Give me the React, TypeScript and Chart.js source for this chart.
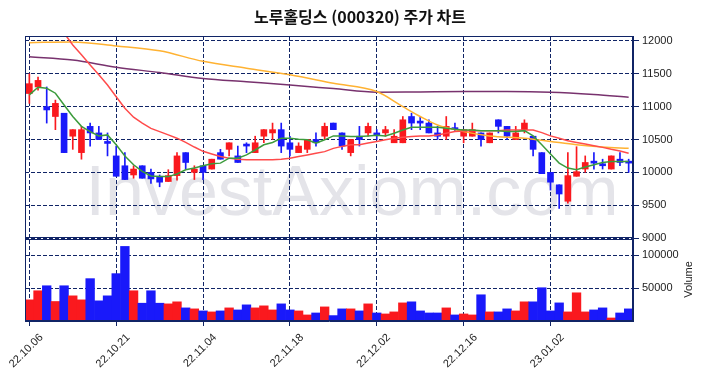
import React, { useEffect, useRef } from 'react';
import { Chart, registerables } from 'chart.js';

Chart.register(...registerables);

const TITLE = '노루홀딩스 (000320) 주가 차트';
const WATERMARK = 'InvestAxiom.com';

const dates = [
  '22.10.06', '22.10.07', '22.10.11', '22.10.12', '22.10.13', '22.10.14', '22.10.17', '22.10.18', '22.10.19', '22.10.20',
  '22.10.21', '22.10.24', '22.10.25', '22.10.26', '22.10.27', '22.10.28', '22.10.31', '22.11.01', '22.11.02', '22.11.03',
  '22.11.04', '22.11.07', '22.11.08', '22.11.09', '22.11.10', '22.11.11', '22.11.14', '22.11.15', '22.11.16', '22.11.17',
  '22.11.18', '22.11.21', '22.11.22', '22.11.23', '22.11.24', '22.11.25', '22.11.28', '22.11.29', '22.11.30', '22.12.01',
  '22.12.02', '22.12.05', '22.12.06', '22.12.07', '22.12.08', '22.12.09', '22.12.12', '22.12.13', '22.12.14', '22.12.15',
  '22.12.16', '22.12.19', '22.12.20', '22.12.21', '22.12.22', '22.12.23', '22.12.26', '22.12.27', '22.12.28', '22.12.29',
  '23.01.02', '23.01.03', '23.01.04', '23.01.05', '23.01.06', '23.01.09', '23.01.10', '23.01.11', '23.01.12', '23.01.13',
];

const opens = [
  11200, 11300, 11000, 10850, 10900, 10550, 10300, 10700, 10600, 10450,
  10250, 10100, 9960, 10100, 10000, 9940, 9860, 9950, 10300, 10000,
  10100, 10050, 10300, 10350, 10250, 10410, 10300, 10550, 10600, 10650,
  10450, 10300, 10350, 10500, 10550, 10750, 10600, 10300, 10550, 10600,
  10580, 10600, 10450, 10450, 10850, 10760, 10750, 10600, 10550, 10660,
  10550, 10550, 10600, 10450, 10800, 10700, 10500, 10650, 10550, 10300,
  10000, 9810, 9560, 9940, 10050, 10150, 10110, 10050, 10200, 10150,
];
const highs = [
  11500, 11450, 11300, 11100, 10900, 10650, 10700, 10750, 10700, 10600,
  10400, 10300, 10100, 10100, 10050, 9960, 10040, 10300, 10300, 10100,
  10100, 10200, 10350, 10450, 10400, 10450, 10550, 10650, 10750, 10750,
  10550, 10450, 10500, 10600, 10750, 10750, 10600, 10500, 10700, 10750,
  10650, 10700, 10650, 10850, 10900, 10850, 10800, 10700, 10850, 10750,
  10650, 10750, 10600, 10600, 10800, 10700, 10700, 10800, 10550, 10300,
  10000, 9810, 10300, 10390, 10250, 10300, 10200, 10250, 10300, 10200,
];
const lows = [
  11050, 11250, 10750, 10650, 10300, 10350, 10200, 10400, 10500, 10250,
  9940, 9890, 9910, 9910, 9830, 9780, 9860, 9880, 10050, 9890,
  9890, 10050, 10200, 10250, 10150, 10300, 10300, 10450, 10500, 10300,
  10250, 10300, 10300, 10400, 10500, 10650, 10350, 10250, 10400, 10550,
  10500, 10550, 10450, 10450, 10650, 10650, 10600, 10500, 10500, 10620,
  10450, 10550, 10400, 10450, 10600, 10500, 10500, 10600, 10250, 9980,
  9730, 9450, 9530, 9940, 10000, 10050, 10050, 10050, 10100, 10000,
];
const closes = [
  11350, 11400, 10950, 11050, 10300, 10650, 10650, 10600, 10500, 10440,
  9940, 9890, 10050, 9910, 9900, 9850, 9950, 10250, 10150, 10050,
  10000, 10200, 10200, 10450, 10150, 10400, 10450, 10650, 10650, 10400,
  10350, 10400, 10500, 10450, 10700, 10650, 10400, 10500, 10500, 10700,
  10570, 10650, 10550, 10800, 10750, 10750, 10600, 10550, 10700, 10650,
  10650, 10650, 10500, 10600, 10700, 10550, 10600, 10750, 10350, 9980,
  9850, 9670, 9950, 10010, 10150, 10140, 10100, 10250, 10150, 10140,
];
const volumes = [
  32100, 45900, 53500, 29600, 53500, 38200, 32100, 64300, 30600, 38200,
  71900, 113200, 45900, 27000, 45900, 27000, 26000, 29100, 19900, 18400,
  15300, 13800, 15300, 19900, 16800, 24500, 19900, 23000, 16800, 26000,
  16800, 15300, 9200, 12200, 21400, 8200, 18400, 18400, 15300, 26000,
  12200, 10700, 13800, 27500, 29100, 15300, 12200, 12200, 19900, 9200,
  10700, 9200, 39800, 13800, 13800, 18400, 15300, 29100, 29100, 50500,
  15300, 27500, 13800, 42800, 13800, 16800, 19900, 4600, 12200, 18400,
];

const ma5 = [
  11180, 11295, 11280, 11205, 11025, 10850, 10700, 10620, 10555, 10570,
  10420, 10250, 10115, 10015, 9945, 9935, 9935, 9975, 10040, 10065,
  10100, 10130, 10140, 10215, 10215, 10265, 10340, 10420, 10455, 10520,
  10520, 10505, 10495, 10445, 10495, 10555, 10555, 10545, 10545, 10555,
  10565, 10555, 10595, 10645, 10685, 10685, 10685, 10685, 10670, 10655,
  10645, 10645, 10635, 10635, 10635, 10620, 10620, 10635, 10555, 10420,
  10280, 10140, 10065, 10040, 10080, 10115, 10150, 10165, 10165, 10165,
];
const ma20 = [
  null, null, null, null, 12120, 11940, 11790, 11635, 11485, 11330,
  11150, 10975, 10840, 10750, 10670, 10620, 10570, 10520, 10455, 10385,
  10320, 10280, 10240, 10215, 10200, 10190, 10190, 10190, 10190, 10200,
  10215, 10240, 10265, 10290, 10315, 10365, 10395, 10420, 10420, 10445,
  10470, 10495, 10520, 10535, 10545, 10555, 10555, 10570, 10595, 10620,
  10630, 10635, 10635, 10635, 10635, 10645, 10645, 10645, 10645, 10605,
  10555, 10520, 10480, 10455, 10430, 10405, 10380, 10350, 10325, 10290,
];
const ma60 = [
  11975, null, null, null, null, 11985, null, null, null, null,
  11925, null, null, null, null, 11850, null, null, null, null,
  11690, null, null, null, null, 11585, null, null, null, null,
  11485, null, null, null, null, 11355, null, null, null, null,
  11230, null, null, 11000, null, 10850, null, 10720, null, null,
  10620, null, null, 10555, null, null, null, 10520, null, null,
  10470, null, null, 10420, null, null, 10385, null, null, 10365,
];
const ma120 = [
  11760, null, null, null, null, 11710, null, null, null, null,
  11600, null, null, null, null, 11520, null, null, null, null,
  11430, null, null, null, null, 11380, null, null, null, null,
  11330, null, null, null, null, 11275, null, null, null, null,
  11220, null, null, null, null, 11225, null, null, null, null,
  11230, null, null, null, null, 11230, null, null, null, null,
  11220, null, null, null, null, 11185, null, null, null, 11145,
];

const priceTicks = [9000, 9500, 10000, 10500, 11000, 11500, 12000];
const volumeTicks = [50000, 100000];

const NAVY = '#102466';
const UP = 'rgb(250,25,30)';
const DOWN = 'rgb(25,25,250)';
const FONT = '"Liberation Sans", Arial, sans-serif';

export default function App() {
  const ref = useRef<HTMLCanvasElement | null>(null);

  useEffect(() => {
    if (!ref.current) return;
    const colors = closes.map((c, i) => (c >= opens[i] ? UP : DOWN));

    const framePlugin = {
      id: 'frame',
      beforeDraw(chart: any) {
        const { ctx } = chart;
        ctx.save();
        ctx.fillStyle = '#e4e4e9';
        ctx.font = `70px ${FONT}`;
        ctx.textAlign = 'center';
        ctx.textBaseline = 'alphabetic';
        ctx.fillText(WATERMARK, 352, 215);
        ctx.restore();
      },
      afterDraw(chart: any) {
        const { ctx, chartArea, scales } = chart;
        const y = scales.y;
        const yv = scales.yv;
        ctx.save();
        ctx.strokeStyle = NAVY;
        ctx.lineWidth = 1;
        const l = Math.round(chartArea.left) + 0.5;
        const r = Math.round(chartArea.right) - 0.5;
        const pt = Math.round(y.top) + 0.5;
        const pb = Math.round(y.bottom) - 0.5;
        ctx.strokeRect(l, pt, r - l, pb - pt);
        const vt = Math.round(yv.top) + 1.5;
        const vb = Math.round(yv.bottom) - 0.5;
        ctx.strokeRect(l, vt, r - l, vb - vt);

        ctx.fillStyle = '#111';
        ctx.font = `bold 16px "Noto Sans CJK KR", ${FONT}`;
        ctx.textAlign = 'center';
        ctx.textBaseline = 'middle';
        ctx.fillText(TITLE, 360, 17);

        ctx.fillStyle = '#222';
        ctx.font = `11px ${FONT}`;
        ctx.translate(689, (yv.top + yv.bottom) / 2);
        ctx.rotate(-Math.PI / 2);
        ctx.textAlign = 'center';
        ctx.textBaseline = 'middle';
        ctx.fillText('Volume', 0, 0);
        ctx.restore();
      },
    };

    const gridCommon = { color: NAVY, lineWidth: 1, tickLength: 6, tickColor: NAVY };
    const borderCommon = { color: NAVY, dash: [4, 2] };
    const plain = (v: any) => String(v);

    const chart = new Chart(ref.current, {
      type: 'bar',
      data: {
        labels: dates,
        datasets: [
          { type: 'line', data: ma5, yAxisID: 'y', borderColor: 'rgb(60,155,60)', borderWidth: 1.5, pointRadius: 0, order: 0, spanGaps: true } as any,
          { type: 'line', data: ma20, yAxisID: 'y', borderColor: 'rgb(255,75,75)', borderWidth: 1.5, pointRadius: 0, order: 0, spanGaps: true } as any,
          { type: 'line', data: ma60, yAxisID: 'y', borderColor: 'rgb(255,178,50)', borderWidth: 1.5, pointRadius: 0, order: 0, spanGaps: true, cubicInterpolationMode: 'monotone' } as any,
          { type: 'line', data: ma120, yAxisID: 'y', borderColor: 'rgb(120,50,110)', borderWidth: 1.5, pointRadius: 0, order: 0, spanGaps: true, cubicInterpolationMode: 'monotone' } as any,
          {
            type: 'bar',
            data: opens.map((o, i) => [Math.min(o, closes[i]), Math.max(o, closes[i])]),
            yAxisID: 'y', backgroundColor: colors, barThickness: 6, minBarLength: 2, grouped: false, order: 1,
          } as any,
          {
            type: 'bar',
            data: lows.map((lo, i) => [lo, highs[i]]),
            yAxisID: 'y', backgroundColor: colors, barThickness: 1, grouped: false, order: 2,
          } as any,
          {
            type: 'bar',
            data: volumes,
            yAxisID: 'yv', backgroundColor: colors, barPercentage: 1, categoryPercentage: 1, grouped: false, order: 3,
          } as any,
        ],
      },
      options: {
        responsive: false,
        animation: false,
        devicePixelRatio: 1,
        layout: { padding: { left: 25, top: 36, right: 0, bottom: 0 } },
        plugins: { legend: { display: false }, tooltip: { enabled: false }, title: { display: false } },
        scales: {
          x: {
            type: 'category',
            offset: true,
            grid: { ...gridCommon, offset: false, tickLength: 5 },
            border: { ...borderCommon },
            ticks: { autoSkip: false, maxRotation: 45, minRotation: 45, labelOffset: 12, padding: 5, color: '#222', font: { family: FONT, size: 11 } },
            afterBuildTicks: (s: any) => { s.ticks = s.ticks.filter((t: any) => t.value % 10 === 0); },
            afterFit: (s: any) => { s.height = 57; s.paddingLeft = 0; s.paddingRight = 0; },
          },
          y: {
            type: 'linear',
            position: 'right',
            stack: 'main',
            stackWeight: 202,
            min: 9000,
            max: 12076,
            grid: gridCommon,
            border: borderCommon,
            ticks: { color: '#222', padding: 3, font: { family: FONT, size: 11 }, callback: plain },
            afterBuildTicks: (s: any) => { s.ticks = priceTicks.map((v) => ({ value: v })); },
            afterFit: (s: any) => { s.width = 71; },
          },
          yv: {
            type: 'linear',
            position: 'right',
            stack: 'main',
            stackWeight: 83,
            min: 0,
            max: 126000,
            grid: gridCommon,
            border: borderCommon,
            ticks: { color: '#222', padding: 3, font: { family: FONT, size: 11 }, callback: plain },
            afterBuildTicks: (s: any) => { s.ticks = volumeTicks.map((v) => ({ value: v })); },
            afterFit: (s: any) => { s.width = 71; },
          },
        },
      } as any,
      plugins: [framePlugin],
    });
    return () => chart.destroy();
  }, []);

  return (
    <div style={{ position: 'absolute', left: 0, top: 0, width: 704, height: 378, background: '#fff' }}>
      <canvas ref={ref} width={704} height={378} style={{ display: 'block' }} />
    </div>
  );
}
